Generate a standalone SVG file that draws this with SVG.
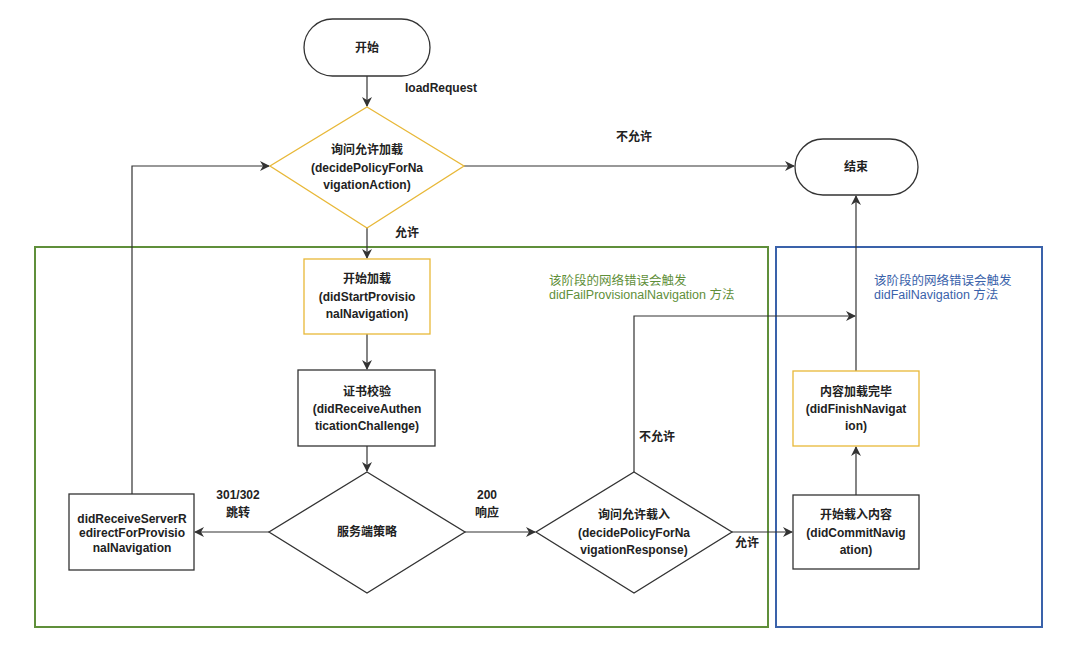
<svg xmlns="http://www.w3.org/2000/svg" width="1080" height="655" viewBox="0 0 1080 655">
<style>
text{font-family:"Liberation Sans","Noto Sans CJK SC",sans-serif;font-size:12px;fill:#222;text-anchor:middle;dominant-baseline:central}
.b{font-weight:bold}
.n{fill:#fff;stroke:#333;stroke-width:1.3}
.y{fill:#fff;stroke:#e8b838;stroke-width:1.3}
.e{fill:none;stroke:#333;stroke-width:1.2}
.g{fill:#5f8f3a;text-anchor:start;font-size:12.5px}
.bl{fill:#3a62aa;text-anchor:start;font-size:12.5px}
</style>
<defs>
<marker id="a" viewBox="0 0 10 10" refX="9" refY="5" markerWidth="10" markerHeight="10" markerUnits="userSpaceOnUse" orient="auto">
<path d="M0,0 L10,5 L0,10 L3,5 Z" fill="#333"/>
</marker>
</defs>
<rect width="1080" height="655" fill="#fff"/>
<g id="regions">
<rect x="35" y="247" width="733" height="380" fill="none" stroke="#5f8f3a" stroke-width="2"/>
<rect x="776" y="247" width="266" height="380" fill="none" stroke="#3a62aa" stroke-width="2"/>
<text class="g" x="549" y="281">该阶段的网络错误会触发</text>
<text class="g" x="549" y="295">didFailProvisionalNavigation 方法</text>
<text class="bl" x="874" y="281">该阶段的网络错误会触发</text>
<text class="bl" x="874" y="295">didFailNavigation 方法</text>
</g>
<g id="connectors">
<line class="e" x1="367" y1="76" x2="367" y2="106" marker-end="url(#a)"/>
<text class="b" x="441" y="88">loadRequest</text>
<line class="e" x1="464" y1="166" x2="794" y2="166" marker-end="url(#a)"/>
<text class="b" x="634" y="137">不允许</text>
<line class="e" x1="367" y1="228" x2="367" y2="258" marker-end="url(#a)"/>
<text class="b" x="407" y="233">允许</text>
<line class="e" x1="367" y1="334" x2="367" y2="369" marker-end="url(#a)"/>
<line class="e" x1="367" y1="446" x2="367" y2="471" marker-end="url(#a)"/>
<line class="e" x1="269" y1="532" x2="195" y2="532" marker-end="url(#a)"/>
<text class="b" x="238" y="495">301/302</text>
<text class="b" x="238" y="513">跳转</text>
<polyline class="e" points="132,494 132,166 269,166" marker-end="url(#a)"/>
<line class="e" x1="465" y1="532" x2="535" y2="532" marker-end="url(#a)"/>
<text class="b" x="487" y="495">200</text>
<text class="b" x="487" y="513">响应</text>
<polyline class="e" points="634,472 634,316 855,316" marker-end="url(#a)"/>
<text class="b" x="657" y="437">不允许</text>
<line class="e" x1="732" y1="532" x2="792" y2="532" marker-end="url(#a)"/>
<text class="b" x="747" y="543">允许</text>
<line class="e" x1="856" y1="495" x2="856" y2="447" marker-end="url(#a)"/>
<line class="e" x1="856" y1="371" x2="856" y2="196" marker-end="url(#a)"/>
</g>
<g id="start">
<rect class="n" x="304" y="19" width="126" height="57" rx="28.5"/>
<text class="b" x="367" y="48">开始</text>
</g>
<g id="end">
<rect class="n" x="795" y="139" width="123" height="56" rx="28"/>
<text class="b" x="856" y="167">结束</text>
</g>
<g id="decideAction">
<polygon class="y" points="367,107 464,166 367,228 270,166"/>
<text class="b" x="367" y="150">询问允许加载</text>
<text class="b" x="367" y="168">(decidePolicyForNa</text>
<text class="b" x="367" y="185">vigationAction)</text>
</g>
<g id="startProvisional">
<rect class="y" x="304" y="259" width="126" height="75"/>
<text class="b" x="367" y="279">开始加载</text>
<text class="b" x="367" y="297">(didStartProvisio</text>
<text class="b" x="367" y="314">nalNavigation)</text>
</g>
<g id="authChallenge">
<rect class="n" x="298" y="370" width="137" height="76"/>
<text class="b" x="367" y="392">证书校验</text>
<text class="b" x="367" y="409">(didReceiveAuthen</text>
<text class="b" x="367" y="426">ticationChallenge)</text>
</g>
<g id="serverPolicy">
<polygon class="n" points="367,472 465,532 367,593 269,532"/>
<text class="b" x="367" y="532">服务端策略</text>
</g>
<g id="redirect">
<rect class="n" x="69" y="494" width="125" height="76"/>
<text class="b" x="132" y="519">didReceiveServerR</text>
<text class="b" x="132" y="533">edirectForProvisio</text>
<text class="b" x="132" y="548">nalNavigation</text>
</g>
<g id="decideResponse">
<polygon class="n" points="634,472 732,532 634,593 536,532"/>
<text class="b" x="634" y="515">询问允许载入</text>
<text class="b" x="634" y="533">(decidePolicyForNa</text>
<text class="b" x="634" y="550">vigationResponse)</text>
</g>
<g id="commit">
<rect class="n" x="793" y="495" width="126" height="74"/>
<text class="b" x="856" y="515">开始载入内容</text>
<text class="b" x="856" y="533">(didCommitNavig</text>
<text class="b" x="856" y="550">ation)</text>
</g>
<g id="finish">
<rect class="y" x="793" y="371" width="126" height="75"/>
<text class="b" x="856" y="392">内容加载完毕</text>
<text class="b" x="856" y="409">(didFinishNavigat</text>
<text class="b" x="856" y="426">ion)</text>
</g>
</svg>
